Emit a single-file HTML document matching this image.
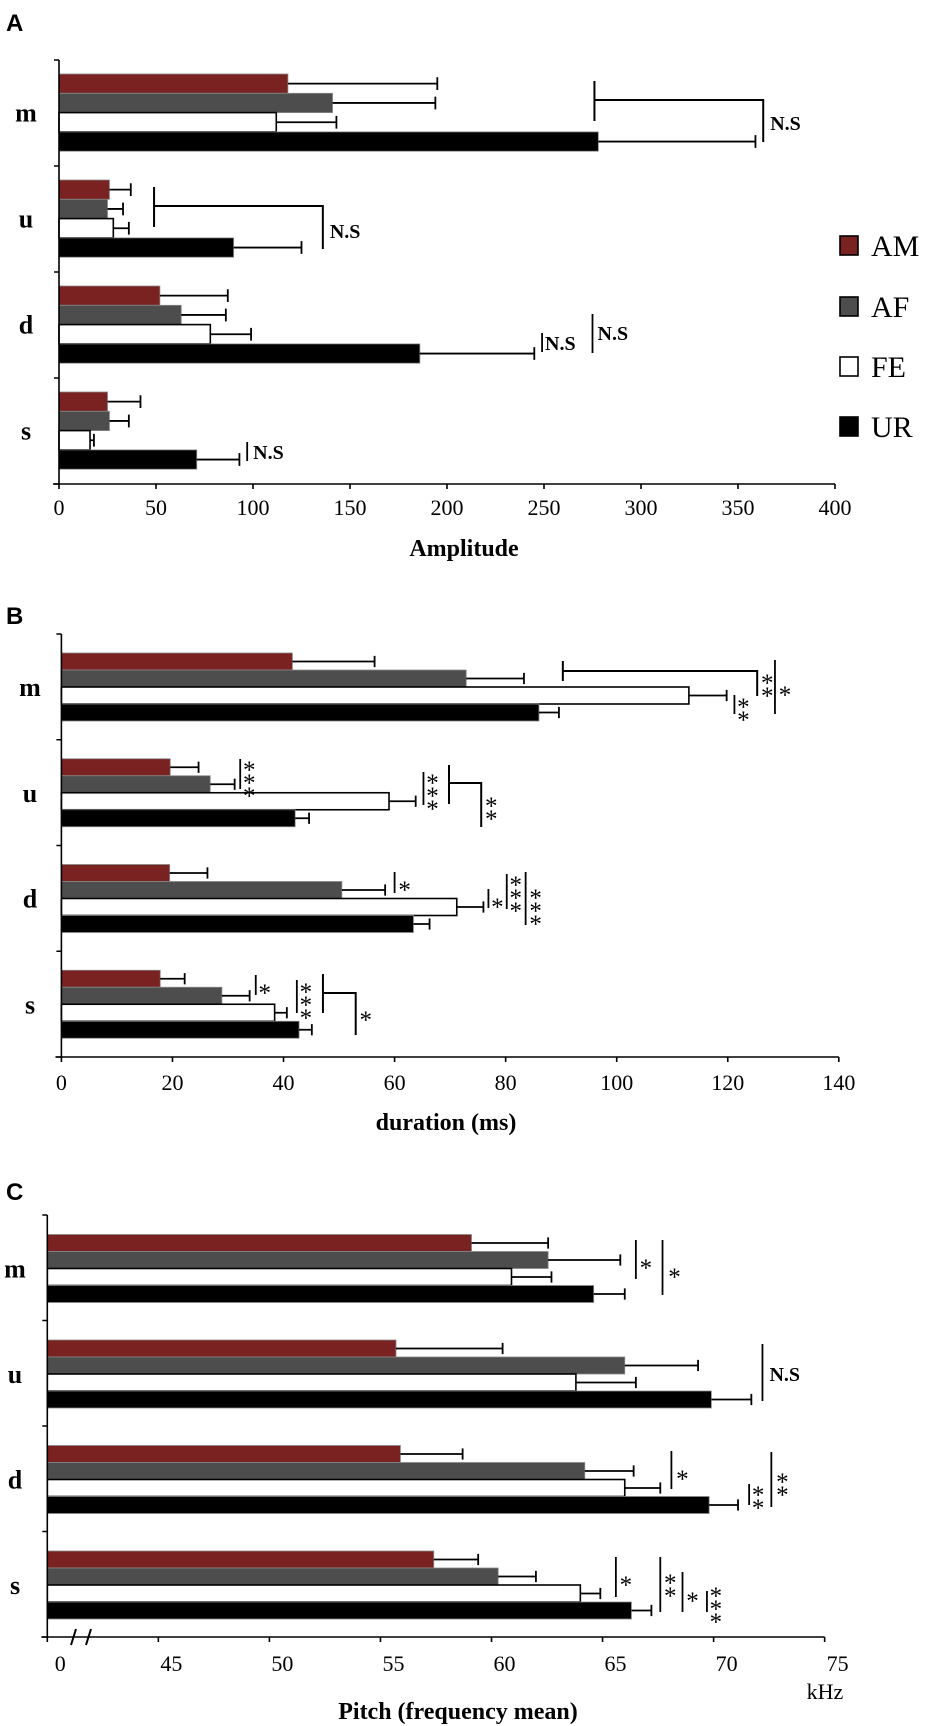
<!DOCTYPE html>
<html><head><meta charset="utf-8">
<style>
html,body{margin:0;padding:0;background:#fff;}
svg{display:block;font-family:"Liberation Serif",serif;}
</style></head>
<body>
<svg id="fig" width="926" height="1726" viewBox="0 0 926 1726" xmlns="http://www.w3.org/2000/svg"></svg>
<script>
const categories = ["m","u","d","s"];
const seriesNames = ["AM","AF","FE","UR"];
const seriesColors = ["#7a2222","#4d4d4d","#ffffff","#000000"];
// Panel A: Amplitude
const ampMeans = [[118,141,112,278],[26,25,28,90],[52,63,78,186],[25,26,16,71]];
const ampErrs  = [[195,194,143,359],[37,33,36,125],[87,86,99,245],[42,36,18,93]];
const ampTicks = [0,50,100,150,200,250,300,350,400];
// Panel B: duration
const durMeans = [[41.6,72.9,113,86],[19.6,26.8,59,42.1],[19.5,50.5,71.2,63.4],[17.8,28.9,38.4,42.8]];
const durErrs  = [[56.4,83.3,119.8,89.6],[24.7,31.2,63.8,44.6],[26.3,58.3,76,66.3],[22.2,33.9,40.6,45.1]];
const durTicks = [0,20,40,60,80,100,120,140];
// Panel C: pitch
const pitMeans = [[59.1,62.55,60.9,64.6],[55.7,66.0,63.8,69.9],[55.9,64.2,66.0,69.8],[57.4,60.3,64.0,66.3]];
const pitErrs  = [[62.55,65.8,62.7,66.0],[60.5,69.3,66.5,71.7],[58.7,66.4,67.6,71.1],[59.4,62.0,64.9,67.2]];
const pitTicks = [40,45,50,55,60,65,70,75];
const pitTickLabels = ["0","45","50","55","60","65","70","75"];

const NS="http://www.w3.org/2000/svg";
const svg=document.getElementById('fig');
function el(tag,attrs,parent){const e=document.createElementNS(NS,tag);for(const k in attrs)e.setAttribute(k,attrs[k]);(parent||svg).appendChild(e);return e;}
function txt(x,y,s,attrs,parent){const t=el('text',Object.assign({x:x,y:y},attrs||{}),parent);t.textContent=s;return t;}

function panel(cfg){
  const g=el('g',{});
  
  
  const X=cfg.x;
  const L=txt(cfg.letterX,cfg.letterY,cfg.letter,{'font-family':'Liberation Sans, sans-serif','font-weight':'bold','font-size':24},g);
  
  
  for(let i=0;i<categories.length;i++){
    const top=cfg.top+cfg.step*i;
    for(let j=0;j<seriesNames.length;j++){
      const y=top+cfg.off+j*cfg.bh;
      const x0=X(cfg.domainMin), x1=X(cfg.means[i][j]);
      const r=el('rect',{x:x0,y:y,width:x1-x0,height:cfg.bh,fill:seriesColors[j],stroke:j==2?'#000':'#888','stroke-width':j==2?1.6:0.8},g);
      
      
      const xe=X(cfg.errs[i][j]), yc=y+cfg.bh/2;
      const e=el('path',{d:`M${x1},${yc}H${xe}M${xe},${yc-cfg.bh*0.33}V${yc+cfg.bh*0.33}`,stroke:'#000','stroke-width':1.8,fill:'none'},g);
      
      
    }
    const c=txt(cfg.catX,top+cfg.off+2*cfg.bh+9,categories[i],{'font-weight':'bold','font-size':26,'text-anchor':'middle'},g);
    
    
  }
  const ax0=X(cfg.domainMin), base=cfg.top+cfg.step*4;
  const ya=el('path',{d:`M${ax0},${cfg.top}V${base}`+[0,1,2,3,4].map(k=>`M${ax0-5},${cfg.top+cfg.step*k}H${ax0}`).join(''),stroke:'#000','stroke-width':1.6,fill:'none'},g);
  
  
  const xEnd=X(cfg.ticks[cfg.ticks.length-1]);
  const xa=el('path',{d:`M${ax0-6},${base}H${xEnd}`+cfg.ticks.map(t=>`M${X(t)},${base}V${base+5}`).join(''),stroke:'#000','stroke-width':1.6,fill:'none'},g);
  
  
  cfg.ticks.forEach((t,k)=>{
    const tl=txt(X(t)+cfg.labelShift,cfg.tickY,cfg.tickLabels?cfg.tickLabels[k]:String(t),{'font-size':22,'text-anchor':'middle'},g);
    
    
  });
  const tt=txt(cfg.titleX,cfg.titleY,cfg.title,{'font-weight':'bold','font-size':24,'text-anchor':'middle'},g);
  
  
  cfg.ann.forEach(a=>{
    if(a.t==='line'){
      const p=el('line',{x1:X(a.v),x2:X(a.v),y1:a.y1,y2:a.y2,stroke:'#000','stroke-width':1.8},g);
      
      
    } else if(a.t==='br'){
      const p=el('path',{d:`M${X(a.v1)},${a.y1}V${a.y2}M${X(a.v1)},${a.ym}H${X(a.v2)}V${a.y3}`,stroke:'#000','stroke-width':2,fill:'none'},g);
      
      
    } else if(a.t==='ns'){
      const p=txt(X(a.v)+a.dx,a.y,'N.S',{'font-weight':'bold','font-size':20},g);
      
      
    } else if(a.t==='st'){
      for(let k=0;k<a.n;k++){
        const p=txt(X(a.v)+a.dx,a.y+4+k*13,'*',{'font-size':25,'text-anchor':'middle'},g);
        
        
      }
    }
  });
}

const xA=v=>59+v*1.94;
panel({name:'panel-a-amplitude',letter:'A',letterX:6,letterY:31,x:xA,domainMin:0,top:60,step:106,off:14,bh:19.3,
  means:ampMeans,errs:ampErrs,ticks:ampTicks,catX:26,tickY:515,labelShift:0,title:'Amplitude',titleX:464,titleY:556,
  ann:[
    {t:'br',v1:276,v2:363,y1:81,y2:121,ym:100,y3:142},
    {t:'ns',v:363,dx:7,y:130},
    {t:'br',v1:49,v2:136,y1:187,y2:227,ym:206,y3:249},
    {t:'ns',v:136,dx:7,y:238},
    {t:'line',v:249,y1:333,y2:352},{t:'ns',v:249,dx:3,y:350},
    {t:'line',v:275,y1:314,y2:353},{t:'ns',v:275,dx:5,y:340},
    {t:'line',v:97,y1:442,y2:461},{t:'ns',v:97,dx:6,y:459}
  ]});

const xB=v=>61.4+v*5.553;
panel({name:'panel-b-duration',letter:'B',letterX:6,letterY:624,x:xB,domainMin:0,top:634,step:105.75,off:19,bh:17,
  means:durMeans,errs:durErrs,ticks:durTicks,catX:30,tickY:1090,labelShift:0,title:'duration (ms)',titleX:446,titleY:1130,
  ann:[
    {t:'br',v1:90.3,v2:125.3,y1:661,y2:681,ym:671,y3:696},
    {t:'st',v:125.3,dx:10,y:687,n:2},
    {t:'line',v:128.5,y1:660,y2:714},{t:'st',v:128.5,dx:10,y:699,n:1},
    {t:'line',v:121.2,y1:695,y2:714},{t:'st',v:121.2,dx:9,y:711,n:2},
    {t:'line',v:32.2,y1:759,y2:789},{t:'st',v:32.2,dx:9,y:774,n:3},
    {t:'line',v:65.2,y1:772,y2:805},{t:'st',v:65.2,dx:9,y:787,n:3},
    {t:'br',v1:69.8,v2:75.6,y1:765,y2:804,ym:783,y3:827},
    {t:'st',v:75.6,dx:10,y:810,n:2},
    {t:'line',v:60,y1:872,y2:893},{t:'st',v:60,dx:10,y:894,n:1},
    {t:'line',v:76.9,y1:889,y2:908},{t:'st',v:76.9,dx:9,y:911,n:1},
    {t:'line',v:80.2,y1:874,y2:909},{t:'st',v:80.2,dx:9,y:889,n:3},
    {t:'line',v:83.6,y1:872,y2:925},{t:'st',v:83.6,dx:10,y:902,n:3},
    {t:'line',v:35,y1:975,y2:995},{t:'st',v:35,dx:9,y:997,n:1},
    {t:'line',v:42.4,y1:980,y2:1013},{t:'st',v:42.4,dx:9,y:996,n:3},
    {t:'br',v1:47.1,v2:53,y1:974,y2:1013,ym:993,y3:1035},
    {t:'st',v:53,dx:10,y:1024,n:1}
  ]});

const xC=v=>47.3+(v-40)*22.21;
panel({name:'panel-c-pitch',letter:'C',letterX:6,letterY:1200,x:xC,domainMin:40,top:1215,step:105.5,off:19.5,bh:17,
  means:pitMeans,errs:pitErrs,ticks:pitTicks,tickLabels:pitTickLabels,catX:15,tickY:1671,labelShift:13,title:'Pitch (frequency mean)',titleX:458,titleY:1719,
  ann:[
    {t:'line',v:66.5,y1:1240,y2:1279},{t:'st',v:66.5,dx:10,y:1272,n:1},
    {t:'line',v:67.7,y1:1240,y2:1295},{t:'st',v:67.7,dx:12,y:1281,n:1},
    {t:'line',v:72.2,y1:1344,y2:1401},{t:'ns',v:72.2,dx:7,y:1381},
    {t:'line',v:68.1,y1:1451,y2:1489},{t:'st',v:68.1,dx:11,y:1483,n:1},
    {t:'line',v:71.6,y1:1484,y2:1505},{t:'st',v:71.6,dx:9,y:1499,n:2},
    {t:'line',v:72.6,y1:1452,y2:1507},{t:'st',v:72.6,dx:11,y:1486,n:2},
    {t:'line',v:65.6,y1:1557,y2:1597},{t:'st',v:65.6,dx:10,y:1589,n:1},
    {t:'line',v:67.6,y1:1557,y2:1612},{t:'st',v:67.6,dx:10,y:1587,n:2},
    {t:'line',v:68.6,y1:1572,y2:1612},{t:'st',v:68.6,dx:10,y:1605,n:1},
    {t:'line',v:69.7,y1:1591,y2:1612},{t:'st',v:69.7,dx:9,y:1600,n:3}
  ]});

const brk=el('path',{d:'M71,1645L76,1629M86,1645L91,1629',stroke:'#000','stroke-width':2,fill:'none'});


const khz=txt(825,1699,'kHz',{'font-size':22,'text-anchor':'middle'});



const legY=[236,297,357,417];
seriesNames.forEach((n,j)=>{
  const g=el('g',{});
  
  
  el('rect',{x:840,y:legY[j],width:18,height:19,fill:seriesColors[j],stroke:'#000','stroke-width':1.6},g);
  txt(871,legY[j]+20,n,{'font-size':30},g);
});
</script>
</body></html>
